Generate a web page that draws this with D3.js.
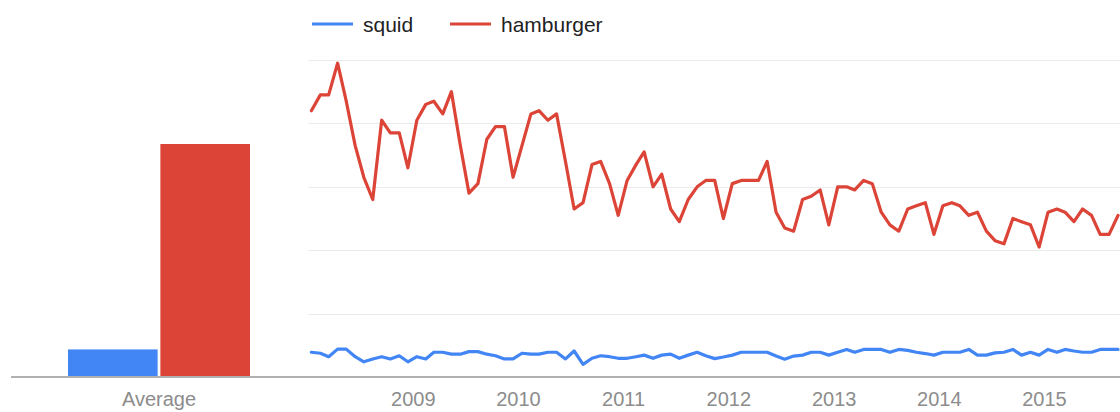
<!DOCTYPE html>
<html><head><meta charset="utf-8">
<script src="https://cdn.jsdelivr.net/npm/d3@7"></script>
<style>
html,body{margin:0;padding:0;background:#fff;overflow:hidden}
svg{display:block;font-family:"Liberation Sans",Arial,Helvetica,sans-serif}
</style></head><body>
<svg id="chart" width="1120" height="412"></svg>
<script>
// ---- data ----
const seriesNames = ["squid", "hamburger"];
const seriesColors = ["#4285f4", "#db4437"];
const averageCategory = ["Average"];
const averageValues = [8.7, 73.5];
const startYear = 2008; // monthly points, starting January 2008
const squidValues = [7.8,7.5,6.4,8.8,8.8,6.4,4.8,5.7,6.4,5.7,6.7,4.8,6.4,5.7,7.8,7.8,7.2,7.2,8.0,8.0,
  7.2,6.7,5.7,5.7,7.5,7.2,7.2,7.8,7.8,5.7,8.2,4.0,5.9,6.7,6.4,5.9,5.9,6.4,6.9,5.9,
  6.9,7.2,5.9,6.9,7.8,6.7,5.8,6.3,6.9,7.8,7.8,7.8,7.8,6.6,5.6,6.6,6.9,7.8,7.8,6.9,
  7.8,8.7,7.8,8.7,8.7,8.7,7.8,8.7,8.4,7.8,7.4,6.9,7.8,7.8,7.8,8.7,6.9,6.9,7.6,7.8,
  8.7,6.9,7.8,6.9,8.7,7.8,8.7,8.2,7.8,7.8,8.7,8.7,8.7];
const hamburgerValues = [84,89,89,99,87,73,63,56,81,77,77,66,81,86,87,83,90,73,58,61,
  75,79,79,63,73,83,84,81,83,68,53,55,67,68,61,51,62,67,71,60,
  64,53,49,56,60,62,62,50,61,62,62,62,68,52,47,46,56,57,59,48,
  60,60,59,62,61,52,48,46,53,54,55,45,54,55,54,51,52,46,43,42,
  50,49,48,41,52,53,52,49,53,51,45,45,51];
const yearTicks = [2009, 2010, 2011, 2012, 2013, 2014, 2015];
const gridValues = [20, 40, 60, 80, 100];

// ---- layout ----
const W = 1120, H = 412;
const baseY = 377, topY = 60;
const svg = d3.select("#chart");

const y = d3.scaleLinear().domain([0, 100]).range([baseY, topY]);

// time scale calibrated on year label positions
const xCal = d3.scaleTime().domain([new Date(2009, 0, 1), new Date(2015, 0, 1)]).range([412.8, 1044]);
const plotLeft = 308;
const x = d3.scaleTime().domain([xCal.invert(plotLeft), xCal.invert(W)]).range([plotLeft, W]);
const dateOf = i => new Date(startYear, i, 15);

// gridlines
svg.append("g").selectAll("line").data(gridValues).join("line")
  .attr("x1", plotLeft).attr("x2", W)
  .attr("y1", d => Math.round(y(d)) + 0.5).attr("y2", d => Math.round(y(d)) + 0.5)
  .attr("stroke", "#ebebeb").attr("stroke-width", 1);

// bar chart (averages)
const xCat = d3.scaleBand().domain(averageCategory).range([68, 250]).padding(0);
const xSer = d3.scaleBand().domain(seriesNames).range([0, xCat.bandwidth()]).paddingInner(0.03);
const barG = svg.append("g").attr("transform", `translate(${xCat("Average")},0)`);
barG.selectAll("rect").data(averageValues).join("rect")
  .attr("x", (d, i) => xSer(seriesNames[i]))
  .attr("width", xSer.bandwidth())
  .attr("y", d => y(d))
  .attr("height", d => baseY - y(d))
  .attr("fill", (d, i) => seriesColors[i]);

// baseline
svg.append("line").attr("x1", 11).attr("x2", W).attr("y1", baseY).attr("y2", baseY)
  .attr("stroke", "#b0b0b0").attr("stroke-width", 2);

// lines
const line = d3.line().x((d, i) => x(dateOf(i))).y(d => y(d));
[squidValues, hamburgerValues].forEach((vals, k) => {
  svg.append("path").datum(vals).attr("d", line)
    .attr("fill", "none").attr("stroke", seriesColors[k])
    .attr("stroke-width", 3.2).attr("stroke-linejoin", "round").attr("stroke-linecap", "round");
});

// x axes
const axisStyle = g => {
  g.select(".domain").remove();
  g.selectAll("text").attr("fill", "#8c8c8c").attr("font-size", 20)
    .attr("font-family", '"Liberation Sans",Arial,Helvetica,sans-serif');
  g.selectAll("line").remove();
};
svg.append("g").attr("transform", `translate(0,${baseY})`)
  .call(d3.axisBottom(x).tickValues(yearTicks.map(v => new Date(v, 0, 1)))
    .tickFormat(d3.timeFormat("%Y")).tickSize(0).tickPadding(15))
  .call(axisStyle);
svg.append("g").attr("transform", `translate(0,${baseY})`)
  .call(d3.axisBottom(xCat).tickSize(0).tickPadding(15))
  .call(axisStyle);

// legend
const legendX = [312, 450];
const lg = svg.append("g");
seriesNames.forEach((name, i) => {
  lg.append("line").attr("x1", legendX[i]).attr("x2", legendX[i] + 41)
    .attr("y1", 24).attr("y2", 24).attr("stroke", seriesColors[i]).attr("stroke-width", 3);
  lg.append("text").attr("x", legendX[i] + 51).attr("y", 31.5)
    .attr("font-size", 21).attr("fill", "#222").text(name);
});
</script>
</body></html>
